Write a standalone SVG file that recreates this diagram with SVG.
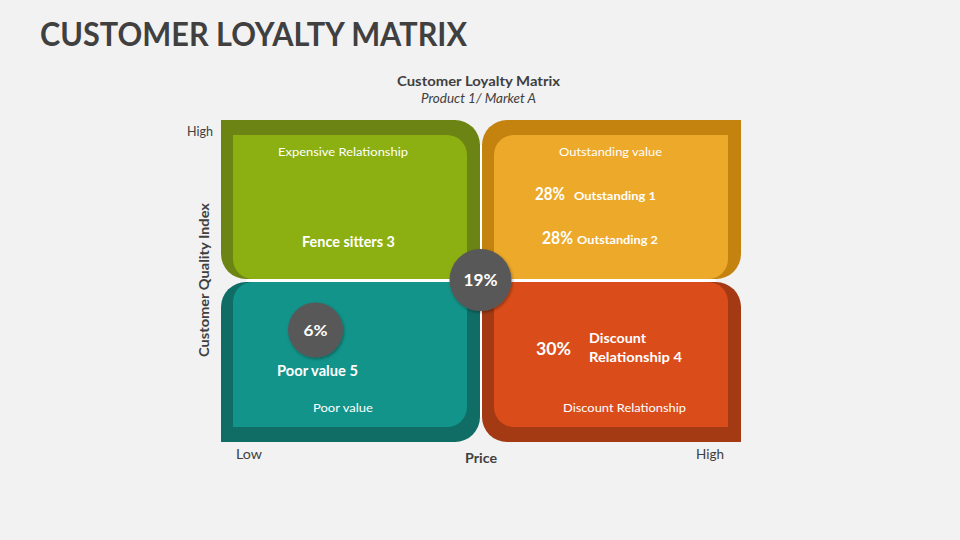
<svg xmlns="http://www.w3.org/2000/svg" width="960" height="540" viewBox="0 0 960 540">
<defs>
<style>
text{font-family:Lato,"Open Sans","Liberation Sans",sans-serif;}
.dark{fill:#404040;}
.w{fill:#ffffff;}
.b{font-weight:bold;}
.c{text-anchor:middle;}
.circ{fill:#595959;filter:url(#sh);}
</style>
<filter id="sh" x="-30%" y="-30%" width="160%" height="160%">
<feDropShadow dx="1" dy="1.5" stdDeviation="1.5" flood-color="#000" flood-opacity="0.35"/>
</filter>
</defs>
<rect width="960" height="540" fill="#F2F2F2"/>
<text class="dark b" x="40" y="46" font-size="32" textLength="427" lengthAdjust="spacingAndGlyphs">CUSTOMER LOYALTY MATRIX</text>
<text class="dark b c" x="478.5" y="86" font-size="14" textLength="163" lengthAdjust="spacingAndGlyphs">Customer Loyalty Matrix</text>
<text class="dark c" x="478.5" y="102.5" font-size="12.5" font-style="italic" textLength="115" lengthAdjust="spacingAndGlyphs">Product 1/ Market A</text>

<g id="axes">
<text class="dark" x="187" y="136" font-size="13" textLength="26" lengthAdjust="spacingAndGlyphs">High</text>
<text class="dark b c" transform="translate(209,280) rotate(-90)" font-size="13.5" textLength="154" lengthAdjust="spacingAndGlyphs">Customer Quality Index</text>
<text class="dark" x="236" y="459" font-size="13" textLength="26" lengthAdjust="spacingAndGlyphs">Low</text>
<text class="dark b c" x="481" y="462.5" font-size="13.5" textLength="32" lengthAdjust="spacingAndGlyphs">Price</text>
<text class="dark" x="696" y="459" font-size="13" textLength="28" lengthAdjust="spacingAndGlyphs">High</text>
</g>

<g id="gaps" fill="#ffffff">
<rect x="480" y="145" width="2" height="272"/>
<rect x="246" y="279" width="470" height="3"/>
</g>

<g id="q-expensive">
<path d="M221,120 H455 A25,25 0 0 1 480,145 V279 H246 A25,25 0 0 1 221,254 Z" fill="#6B8413"/>
<path d="M233,135 H447 A20,20 0 0 1 467,155 V279 H253 A20,20 0 0 1 233,259 Z" fill="#8CAF12"/>
<text class="w c" x="343" y="155.5" font-size="12" textLength="130" lengthAdjust="spacingAndGlyphs">Expensive Relationship</text>
<text class="w b c" x="348.5" y="246.5" font-size="14.5" textLength="93" lengthAdjust="spacingAndGlyphs">Fence sitters 3</text>
</g>

<g id="q-outstanding">
<path d="M741,120 V254 A25,25 0 0 1 716,279 H482 V145 A25,25 0 0 1 507,120 Z" fill="#C4830F"/>
<path d="M728,135 V259 A20,20 0 0 1 708,279 H494 V155 A20,20 0 0 1 514,135 Z" fill="#EDA92A"/>
<text class="w c" x="610.5" y="155.5" font-size="12" textLength="103" lengthAdjust="spacingAndGlyphs">Outstanding value</text>
<text class="w b" x="535" y="199.5" font-size="16.5" textLength="30" lengthAdjust="spacingAndGlyphs">28%</text>
<text class="w b" x="574" y="200" font-size="12" textLength="82" lengthAdjust="spacingAndGlyphs">Outstanding 1</text>
<text class="w b" x="542" y="244" font-size="16.5" textLength="31" lengthAdjust="spacingAndGlyphs">28%</text>
<text class="w b" x="577" y="244" font-size="12" textLength="81" lengthAdjust="spacingAndGlyphs">Outstanding 2</text>
</g>

<g id="q-poor">
<path d="M221,442 V307 A25,25 0 0 1 246,282 H480 V417 A25,25 0 0 1 455,442 Z" fill="#0F6D66"/>
<path d="M233,427 V302 A20,20 0 0 1 253,282 H467 V407 A20,20 0 0 1 447,427 Z" fill="#12948A"/>
<circle class="circ" cx="315.5" cy="330" r="27.5"/>
<text class="w b c" x="315.5" y="335.5" font-size="16" textLength="24" lengthAdjust="spacingAndGlyphs">6%</text>
<text class="w b" x="277" y="376" font-size="14.5" textLength="81" lengthAdjust="spacingAndGlyphs">Poor value 5</text>
<text class="w c" x="343" y="411.5" font-size="12" textLength="60" lengthAdjust="spacingAndGlyphs">Poor value</text>
</g>

<g id="q-discount">
<path d="M741,442 H507 A25,25 0 0 1 482,417 V282 H716 A25,25 0 0 1 741,307 Z" fill="#A33A14"/>
<path d="M728,427 H514 A20,20 0 0 1 494,407 V282 H708 A20,20 0 0 1 728,302 Z" fill="#DA4D1A"/>
<text class="w b" x="536" y="355" font-size="16.5" textLength="35" lengthAdjust="spacingAndGlyphs">30%</text>
<text class="w b" x="589" y="342.5" font-size="13" textLength="57" lengthAdjust="spacingAndGlyphs">Discount</text>
<text class="w b" x="589" y="361.5" font-size="13" textLength="93" lengthAdjust="spacingAndGlyphs">Relationship 4</text>
<text class="w c" x="624.5" y="411.5" font-size="12" textLength="123" lengthAdjust="spacingAndGlyphs">Discount Relationship</text>
</g>

<g id="center">
<circle class="circ" cx="480.5" cy="280" r="31"/>
<text class="w b c" x="480.5" y="286" font-size="17" textLength="34" lengthAdjust="spacingAndGlyphs">19%</text>
</g>
</svg>
